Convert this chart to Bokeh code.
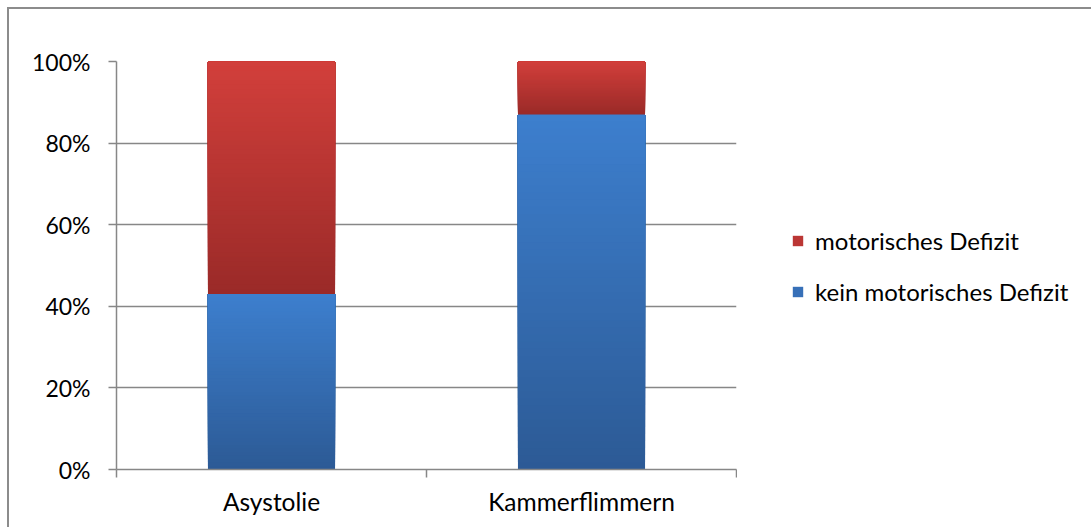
from bokeh.plotting import figure
from bokeh.layouts import row
from bokeh.models import Range1d, FixedTicker, PrintfTickFormatter, Legend, LegendItem
from bokeh.embed import file_html
from bokeh.resources import INLINE

categories = ["Asystolie", "Kammerflimmern"]
kein_defizit = [43, 87]          # % kein motorisches Defizit
motor_defizit = [57, 13]         # % motorisches Defizit
y_ticks = [0, 20, 40, 60, 80, 100]
series_names = ["motorisches Defizit", "kein motorisches Defizit"]

FONT = "Lato"
GRID = "#878787"
bar_w = 0.41

p = figure(width=728, height=520, output_backend="svg", toolbar_location=None,
           x_range=Range1d(0, len(categories)), y_range=Range1d(0, 100),
           min_border_left=107, min_border_top=52, min_border_bottom=60,
           min_border_right=1, outline_line_color=None)

def hex2rgb(h):
    return tuple(int(h[i:i + 2], 16) for i in (1, 3, 5))

def mix(c1, c2, t):
    a, b = hex2rgb(c1), hex2rgb(c2)
    return "#%02x%02x%02x" % tuple(round(a[k] + (b[k] - a[k]) * t) for k in range(3))

def gradient_bar(xc, bottom, top, dark, light, n=50):
    # overlapping bands: each band reaches the segment top, later ones are lighter
    lefts, rights, bottoms, tops, cols = [], [], [], [], []
    for i in range(n):
        lefts.append(xc - bar_w / 2)
        rights.append(xc + bar_w / 2)
        bottoms.append(bottom + (top - bottom) * i / n)
        tops.append(top)
        cols.append(mix(dark, light, (i + 0.5) / n))
    return p.quad(left=lefts, right=rights, bottom=bottoms, top=tops,
                  fill_color=cols, line_color=None)

blue_dark, blue_light = "#2c5a95", "#3d7fce"
red_dark, red_light = "#9a2a28", "#d23f3b"

for i, cat in enumerate(categories):
    xc = i + 0.5
    gradient_bar(xc, 0, kein_defizit[i], blue_dark, blue_light)
    gradient_bar(xc, kein_defizit[i], kein_defizit[i] + motor_defizit[i], red_dark, red_light)

# y axis
p.yaxis.ticker = FixedTicker(ticks=y_ticks)
p.yaxis.formatter = PrintfTickFormatter(format="%d%%")
p.yaxis.axis_line_color = GRID
p.yaxis.axis_line_width = 1.5
p.yaxis.major_tick_line_color = GRID
p.yaxis.major_tick_line_width = 1.5
p.yaxis.major_tick_out = 8
p.yaxis.major_tick_in = 0
p.yaxis.minor_tick_line_color = None
p.yaxis.major_label_text_font = FONT
p.yaxis.major_label_text_font_size = "23px"
p.yaxis.major_label_text_color = "#000000"
p.yaxis.major_label_standoff = 18

# x axis
p.xaxis.ticker = FixedTicker(ticks=[i + 0.5 for i in range(len(categories))],
                             minor_ticks=list(range(len(categories) + 1)))
p.xaxis.major_label_overrides = {i + 0.5: c for i, c in enumerate(categories)}
p.xaxis.axis_line_color = GRID
p.xaxis.axis_line_width = 1.5
p.xaxis.major_tick_line_color = None
p.xaxis.minor_tick_line_color = GRID
p.xaxis.minor_tick_line_width = 1.5
p.xaxis.minor_tick_out = 8
p.xaxis.minor_tick_in = 0
p.xaxis.major_label_text_font = FONT
p.xaxis.major_label_text_font_size = "24.5px"
p.xaxis.major_label_text_color = "#000000"
p.xaxis.major_label_standoff = 9

p.xgrid.grid_line_color = None
p.ygrid.ticker = FixedTicker(ticks=y_ticks)
p.ygrid.grid_line_color = GRID
p.ygrid.grid_line_width = 1.5

# legend panel
q = figure(width=356, height=520, output_backend="svg", toolbar_location=None,
           x_range=Range1d(0, 1), y_range=Range1d(0, 1),
           min_border=0, outline_line_color=None)
q.axis.visible = False
q.grid.visible = False
lr = q.quad(left=[0], right=[0], bottom=[0], top=[0], fill_color="#bb3634",
            line_color=None, visible=False)
lb = q.quad(left=[0], right=[0], bottom=[0], top=[0], fill_color="#3770b8",
            line_color=None, visible=False)
legend = Legend(items=[LegendItem(label=series_names[0], renderers=[lr]),
                       LegendItem(label=series_names[1], renderers=[lb])],
                location=(54, 163), border_line_color=None, background_fill_alpha=0,
                glyph_width=13, glyph_height=13, label_text_font=FONT,
                label_text_font_size="24px", label_text_color="#000000",
                label_height=28, spacing=22, padding=0, margin=0, label_standoff=11)
q.add_layout(legend, "center")

layout = row(p, q, spacing=0)
layout.margin = (7, 0, 0, 7)
layout.styles = {"border-top": "2px solid #8c8c8c", "border-left": "2px solid #8c8c8c"}

open("out.html", "w").write(file_html(layout, INLINE))
